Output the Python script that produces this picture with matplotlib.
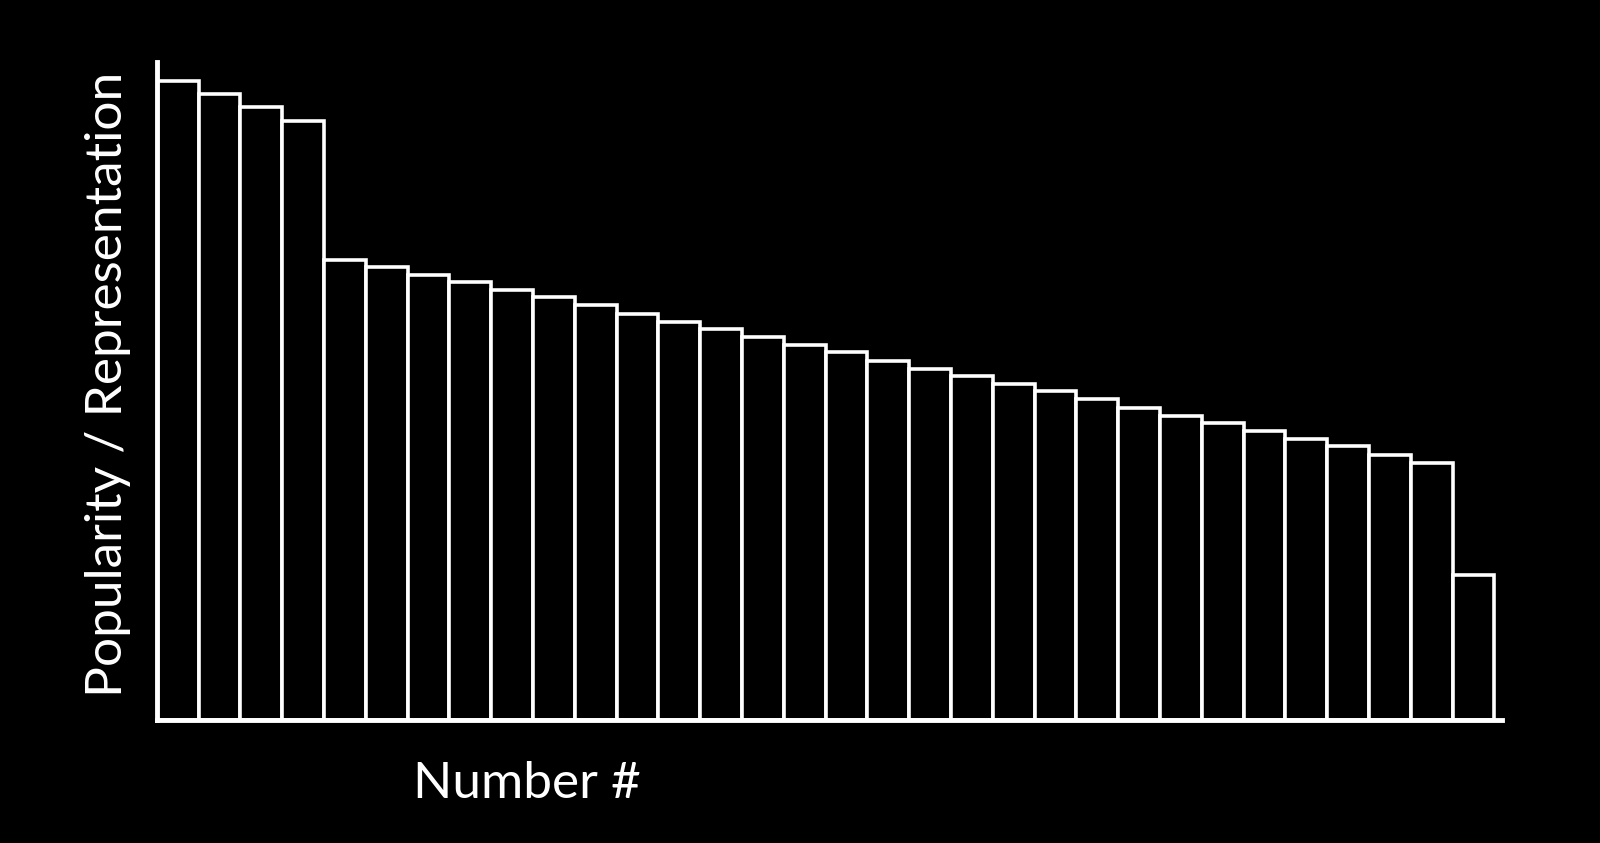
import numpy as np
import matplotlib.pyplot as plt

# bar heights (arbitrary units)
heights = [626, 613, 600, 587, 451, 444, 436, 429, 421, 414, 406, 398, 390, 383,
           375, 367, 360, 352, 344, 337, 329, 322, 314, 306, 298, 291, 283, 275,
           268, 260, 252, 142]
x_label = "Number #"
y_label = "Popularity / Representation"

plt.rcParams['font.family'] = ['Lato', 'DejaVu Sans']

fig = plt.figure(figsize=(16, 8.43), dpi=100, facecolor="black")
ax = fig.add_axes([0.098, 0.146, 0.841, 0.781], facecolor="black")

pos = np.arange(len(heights))
ax.bar(pos, heights, width=1.0, align="edge", color="black",
       edgecolor="white", linewidth=2.6)

ax.set_xlim(0, len(heights) + 0.19)
ax.set_ylim(0, 645)

for side in ["top", "right"]:
    ax.spines[side].set_visible(False)
for side in ["left", "bottom"]:
    ax.spines[side].set_color("white")
    ax.spines[side].set_linewidth(3.5)
ax.set_xticks([])
ax.set_yticks([])

ax.set_xlabel(x_label, color="white", fontsize=37)
ax.xaxis.set_label_coords(0.275, -0.098)
ax.xaxis.label.set_va("center")
ax.set_ylabel(y_label, color="white", fontsize=37)
ax.yaxis.set_label_coords(-0.036, 0.51)
ax.yaxis.label.set_va("center")

fig.savefig("out.png", dpi=100, facecolor="black")
